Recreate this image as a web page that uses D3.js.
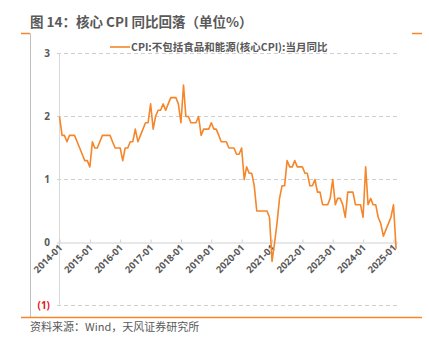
<!DOCTYPE html>
<html><head><meta charset="utf-8">
<script src="https://cdn.jsdelivr.net/npm/d3@7"></script>
<style>
body{margin:0;background:#fff;}
svg{display:block;font-family:"Noto Sans CJK SC","Noto Sans",sans-serif;}
</style></head>
<body><svg id="c" width="429" height="350"></svg>
<script>
const titleText = "图 14：核心 CPI 同比回落（单位%）";
const seriesName = "CPI:不包括食品和能源(核心CPI):当月同比";
const sourceText = "资料来源：Wind，天风证券研究所";
const startMonth = "2014-01";
const coreCPI = [
  2.0,1.7,1.7,1.6,1.7,1.7,1.7,1.6,1.5,1.4,1.3,1.3,
  1.2,1.6,1.5,1.5,1.6,1.7,1.7,1.7,1.7,1.6,1.5,1.5,
  1.5,1.3,1.5,1.5,1.6,1.6,1.8,1.6,1.7,1.8,1.9,1.9,
  2.2,1.8,2.0,2.1,2.1,2.2,2.1,2.2,2.3,2.3,2.3,2.2,
  1.9,2.5,2.0,2.0,1.9,1.9,1.9,2.0,1.7,1.8,1.8,1.8,
  1.9,1.8,1.8,1.7,1.6,1.6,1.6,1.5,1.5,1.5,1.4,1.4,
  1.5,1.0,1.2,1.1,1.1,0.9,0.5,0.5,0.5,0.5,0.5,0.4,
  -0.3,0.0,0.3,0.7,0.9,0.9,1.3,1.2,1.2,1.3,1.2,1.2,
  1.2,1.1,1.1,0.9,0.9,1.0,0.8,0.8,0.6,0.6,0.6,0.7,
  1.0,0.6,0.7,0.7,0.6,0.4,0.8,0.8,0.8,0.6,0.6,0.6,
  0.4,1.2,0.6,0.7,0.6,0.6,0.4,0.3,0.1,0.2,0.3,0.4,
  0.6,-0.1
];
const xTickLabels = ["2014-01","2015-01","2016-01","2017-01","2018-01","2019-01","2020-01","2021-01","2022-01","2023-01","2024-01","2025-01"];
const yTicks = [-1,0,1,2,3];

const parse = d3.timeParse("%Y-%m");
const start = parse(startMonth);
const data = coreCPI.map((v,i)=>({date:d3.timeMonth.offset(start,i), value:v}));

const svg = d3.select("#c");
const gray = "#595959";
const orange = "#F5862A";

// frame lines
svg.append("line").attr("x1",21).attr("x2",30).attr("y1",33.5).attr("y2",33.5).attr("stroke",orange).attr("stroke-width",1.5);
svg.append("line").attr("x1",412).attr("x2",422).attr("y1",33.5).attr("y2",33.5).attr("stroke",orange).attr("stroke-width",1.5);
svg.append("line").attr("x1",30.5).attr("x2",30.5).attr("y1",33.5).attr("y2",317).attr("stroke","#bfbfbf").attr("stroke-width",1);
svg.append("line").attr("x1",21).attr("x2",422).attr("y1",317.5).attr("y2",317.5).attr("stroke",orange).attr("stroke-width",1.5);

// title
svg.append("text").attr("x",30).attr("y",27).attr("fill",gray).attr("font-size",13.5).attr("font-weight","bold").text(titleText);
// source
svg.append("text").attr("x",30).attr("y",331).attr("fill",gray).attr("font-size",11).text(sourceText);

const x = d3.scaleTime().domain([parse(xTickLabels[0]), parse(xTickLabels[xTickLabels.length-1])]).range([59.5,393.5]);
const y = d3.scaleLinear().domain([-1,3]).range([305.5,53.5]);

// gridlines
const grid = svg.append("g");
yTicks.filter(t=>t!==0).forEach(t=>{
  grid.append("line").attr("x1",57).attr("x2",398).attr("y1",y(t)).attr("y2",y(t))
    .attr("stroke","#d0d0d0").attr("stroke-dasharray","4,3").attr("stroke-width",1);
});
// y axis line
svg.append("line").attr("x1",59.5).attr("x2",59.5).attr("y1",y(3)).attr("y2",y(-1)).attr("stroke","#d9d9d9");

// y labels
const yAxis = d3.axisLeft(y).tickValues(yTicks).tickSize(0).tickPadding(0)
  .tickFormat(d=> d<0 ? "("+Math.abs(d)+")" : d);
const gy = svg.append("g").attr("transform","translate(50,0)").call(yAxis);
gy.select(".domain").remove();
gy.selectAll("text").attr("font-size",10).attr("font-weight","bold")
  .attr("font-family","\"Noto Sans\",sans-serif")
  .attr("fill",d=> d<0 ? "#e8141e" : gray);

// x axis at zero
const xAxis = d3.axisBottom(x).tickValues(xTickLabels.map(parse)).tickSize(0).tickFormat(d3.timeFormat("%Y-%m"));
const gx = svg.append("g").attr("transform",`translate(0,${y(0)})`).call(xAxis);
gx.select(".domain").attr("stroke","#d0d0d0").attr("d",`M57,0.5H398`);
gx.selectAll(".tick line").attr("y1",-3).attr("y2",0).attr("stroke","#d0d0d0");
gx.selectAll("text").attr("font-size",9.5).attr("font-weight","bold").attr("fill",gray)
  .attr("font-family","\"Noto Sans\",sans-serif")
  .attr("text-anchor","end").attr("dy",0).attr("y",0)
  .attr("transform","translate(3,6) rotate(-45)");

// line
const line = d3.line().x(d=>x(d.date)).y(d=>y(d.value));
svg.append("path").datum(data).attr("d",line).attr("fill","none").attr("stroke",orange).attr("stroke-width",1.6).attr("stroke-linejoin","round");

// legend
svg.append("line").attr("x1",110).attr("x2",130).attr("y1",47).attr("y2",47).attr("stroke",orange).attr("stroke-width",1.6);
svg.append("text").attr("x",131).attr("y",51).attr("fill",gray).attr("font-size",10.5).attr("font-weight","bold").text(seriesName);
</script></body></html>
